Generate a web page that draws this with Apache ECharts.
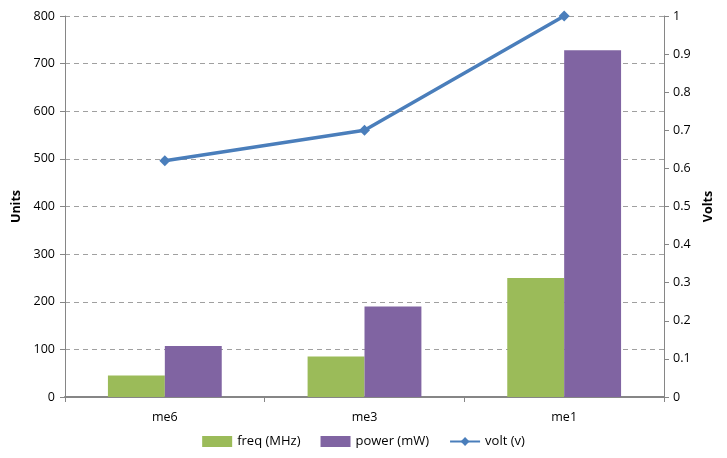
<!DOCTYPE html>
<html>
<head>
<meta charset="utf-8">
<script src="https://cdn.jsdelivr.net/npm/echarts@6/dist/echarts.min.js"></script>
<style>
html,body{margin:0;padding:0;background:#fff;}
#chart{width:727px;height:458px;}
</style>
</head>
<body>
<div id="chart"></div>
<script>
// Chip operating points per metal layer
const categories = ['me6', 'me3', 'me1'];
const freqMHz = [45, 85, 250];
const powerMW = [107, 190, 728];
const voltV = [0.62, 0.70, 1.0];

const FONT = '"Open Sans", "Noto Sans", sans-serif';
const chart = echarts.init(document.getElementById('chart'), null, {renderer: 'canvas'});

chart.setOption({
  animation: false,
  textStyle: {fontFamily: FONT},
  grid: {left: 65, right: 63, top: 16, bottom: 61},
  legend: {
    bottom: 5,
    left: 'center',
    itemGap: 20,
    itemWidth: 30,
    itemHeight: 11,
    textStyle: {fontSize: 13, color: '#000', fontFamily: FONT},
    data: [
      {name: 'freq (MHz)', icon: 'rect'},
      {name: 'power (mW)', icon: 'rect'},
      {name: 'volt (v)'}
    ]
  },
  xAxis: {
    type: 'category',
    data: categories,
    axisLine: {lineStyle: {color: '#868686', width: 2}},
    axisTick: {show: true, alignWithLabel: false, length: 5, lineStyle: {color: '#868686', width: 1}},
    axisLabel: {color: '#000', fontSize: 12.5, margin: 14}
  },
  yAxis: [
    {
      type: 'value',
      name: 'Units',
      nameLocation: 'middle',
      nameGap: 40,
      nameRotate: 90,
      nameTextStyle: {fontWeight: 'bold', fontSize: 12.5, color: '#000'},
      min: 0, max: 800, interval: 100,
      axisLine: {show: true, lineStyle: {color: '#868686'}},
      axisTick: {show: true, length: 5, lineStyle: {color: '#868686'}},
      axisLabel: {color: '#000', fontSize: 12.5, margin: 10},
      splitLine: {lineStyle: {type: [5, 4], color: '#a0a0a0', width: 1}}
    },
    {
      type: 'value',
      name: 'Volts',
      nameLocation: 'middle',
      nameGap: 38,
      nameRotate: 90,
      nameTextStyle: {fontWeight: 'bold', fontSize: 12.5, color: '#000'},
      min: 0, max: 1, interval: 0.1,
      axisLine: {show: true, lineStyle: {color: '#868686'}},
      axisTick: {show: true, length: 5, lineStyle: {color: '#868686'}},
      axisLabel: {color: '#000', fontSize: 12.5, margin: 9,
        formatter: v => String(Math.round(v * 10) / 10)},
      splitLine: {show: false}
    }
  ],
  series: [
    {
      name: 'freq (MHz)',
      type: 'bar',
      data: freqMHz,
      barGap: '0%',
      barCategoryGap: '43%',
      itemStyle: {color: '#9BBB59'}
    },
    {
      name: 'power (mW)',
      type: 'bar',
      data: powerMW,
      itemStyle: {color: '#8064A2'}
    },
    {
      name: 'volt (v)',
      type: 'line',
      yAxisIndex: 1,
      data: voltV,
      symbol: 'diamond',
      symbolSize: 11,
      lineStyle: {color: '#4A7EBB', width: 3.5},
      itemStyle: {color: '#4A7EBB'}
    }
  ]
});
</script>
</body>
</html>
